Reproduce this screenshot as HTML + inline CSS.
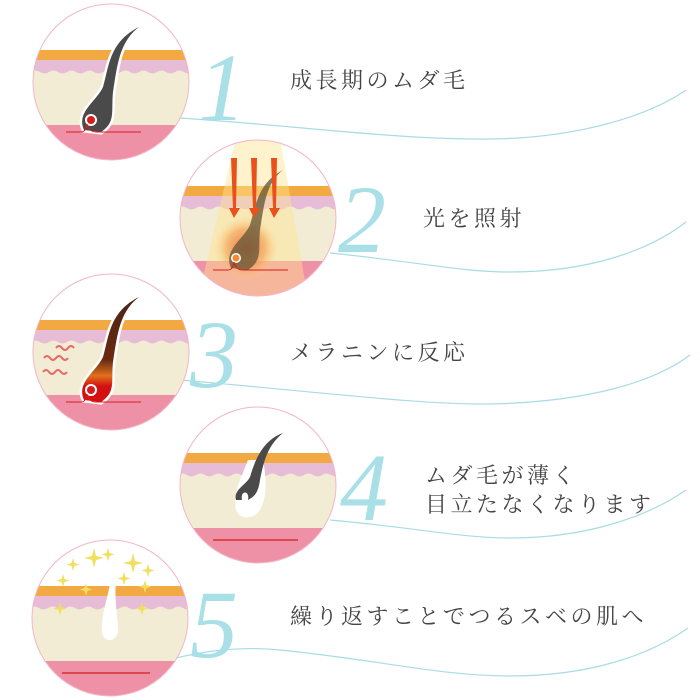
<!DOCTYPE html>
<html><head><meta charset="utf-8"><style>
html,body{margin:0;padding:0;background:#fff;}
svg{display:block}
.t{font-family:"Liberation Serif","Noto Serif CJK SC",serif;font-size:22px;fill:#444;letter-spacing:3.5px}
.n{font-family:"Liberation Serif",serif;font-style:italic;font-size:96px;fill:#a9dfe6}
</style></head><body>
<svg width="700" height="700" viewBox="0 0 700 700" xmlns="http://www.w3.org/2000/svg">
<defs>
<clipPath id="c"><circle cx="0" cy="0" r="78"/></clipPath>
<g id="skin">
<rect x="-80" y="-80" width="160" height="160" fill="#fff"/>
<rect x="-80" y="-32" width="160" height="10" fill="#f2a941"/>
<rect x="-80" y="-22" width="160" height="14" fill="#e6bcd6"/>
<path d="M-80 -10 q4.5 -3 9 0 t9 0 t9 0 t9 0 t9 0 t9 0 t9 0 t9 0 t9 0 t9 0 t9 0 t9 0 t9 0 t9 0 t9 0 t9 0 t9 0 t9 0 L80 43 L-80 43Z" fill="#f3ecd4"/>
<rect x="-80" y="43" width="160" height="40" fill="#ef91a6"/>
</g>
<radialGradient id="glow"><stop offset="0" stop-color="#e8583a" stop-opacity=".85"/><stop offset=".6" stop-color="#f59a4a" stop-opacity=".6"/><stop offset="1" stop-color="#ffd27a" stop-opacity="0"/></radialGradient>
<linearGradient id="h3" x1="0" y1="0" x2="0" y2="1"><stop offset="0" stop-color="#4a2418"/><stop offset=".6" stop-color="#6a2a10"/><stop offset=".75" stop-color="#e0701c"/><stop offset=".85" stop-color="#d21010"/></linearGradient>
</defs>

<g fill="none" stroke="#a9dbe4" stroke-width="1.2">
<path d="M180 118 C300 126 400 140 490 139 C580 138 650 115 686 90"/>
<path d="M330 253 C420 262 460 272 510 272 C590 272 650 250 686 222"/>
<path d="M180 380 C300 390 420 405 490 404 C580 402 650 385 690 355"/>
<path d="M330 520 C420 528 460 538 510 538 C590 538 650 515 686 490"/>
<path d="M150 665 C200 650 240 646 280 650 C380 660 440 676 510 676 C590 676 650 655 688 628"/>
</g>

<g transform="translate(111,82)">
<g clip-path="url(#c)"><use href="#skin"/>
<path d="M-27 48 C-35 30 -15 20 -8 5 C-2 -15 -2 -40 28 -55 C8 -40 6 -15 2 10 C0 30 5 40 -10 50 Z" fill="#fff" stroke="#fff" stroke-width="5"/>
<path d="M-27 48 C-35 30 -15 20 -8 5 C-2 -15 -2 -40 28 -55 C8 -40 6 -15 2 10 C0 30 5 40 -10 50 Z" fill="#4a4a4a"/>
<circle cx="-20" cy="38" r="6" fill="#fff"/><circle cx="-20" cy="38" r="4" fill="#d81c1c"/>
<path d="M-45 50 L-30 50 Q-25 50 -24 42 M-24 42 Q-22 50 -15 50 L30 50" fill="none" stroke="#d81c1c" stroke-width="1"/>
</g><circle r="78" fill="none" stroke="#f2b6c6" stroke-width="1"/></g>

<g transform="translate(258,218)">
<g clip-path="url(#c)"><use href="#skin"/>
<path d="M-22 -80 L22 -80 L50 80 L-60 80Z" fill="#ffe490" opacity=".45"/>
<circle cx="-12" cy="30" r="32" fill="url(#glow)"/>
<path d="M-27 50 C-35 32 -15 22 -8 7 C-2 -13 0 -35 25 -48 C8 -35 6 -13 2 12 C0 32 5 42 -10 52 Z" fill="#6b5a3a" opacity=".8"/>
<circle cx="-22" cy="40" r="5" fill="#fff"/><circle cx="-22" cy="40" r="3.5" fill="#f08a3a"/>
<path d="M-45 52 L-30 52 Q-25 52 -24 44 M-24 44 Q-22 52 -15 52 L30 52" fill="none" stroke="#d81c1c" stroke-width="1"/>
<g fill="#e8501c">
<path d="M-27 -60 l6 0 l-1 50 l4 0 l-6 10 l-5 -10 l4 0Z"/>
<path d="M-7 -60 l6 0 l-1 50 l4 0 l-6 10 l-5 -10 l4 0Z"/>
<path d="M13 -60 l6 0 l-1 50 l4 0 l-6 10 l-5 -10 l4 0Z"/>
</g>
</g><circle r="78" fill="none" stroke="#f2b6c6" stroke-width="1"/></g>

<g transform="translate(111,352)">
<g clip-path="url(#c)"><use href="#skin"/>
<path d="M-27 48 C-35 30 -15 20 -8 5 C-2 -15 -2 -40 28 -55 C8 -40 6 -15 2 10 C0 30 5 40 -10 50 Z" fill="#fff" stroke="#fff" stroke-width="5"/>
<path d="M-27 48 C-35 30 -15 20 -8 5 C-2 -15 -2 -40 28 -55 C8 -40 6 -15 2 10 C0 30 5 40 -10 50 Z" fill="url(#h3)"/>
<circle cx="-20" cy="38" r="6" fill="#fff"/><circle cx="-20" cy="38" r="4" fill="#d81c1c"/>
<path d="M-45 50 L-30 50 Q-25 50 -24 42 M-24 42 Q-22 50 -15 50 L30 50" fill="none" stroke="#d81c1c" stroke-width="1"/>
<g fill="none" stroke="#e86a6a" stroke-width="2">
<path d="M-67 6 q3 -4 6 0 t6 0 t6 0 t6 0"/>
<path d="M-55 -4 q3 -4 6 0 t6 0 t6 0"/>
<path d="M-68 20 q3 -4 6 0 t6 0 t6 0 t6 0"/>
</g>
</g><circle r="78" fill="none" stroke="#f2b6c6" stroke-width="1"/></g>

<g transform="translate(258,485)">
<g clip-path="url(#c)"><use href="#skin"/>
<path d="M-10 -25 C-20 0 -25 10 -22 25 C-18 35 -5 35 2 25 C10 10 8 -10 5 -25Z" fill="#fff"/>
<path d="M-22 15 C-25 5 -12 0 -8 -8 C-3 -25 5 -45 25 -52 C10 -40 6 -25 2 -5 C0 10 -5 12 -10 15 C-8 5 -18 5 -16 15Z" fill="#4a4a4a"/>
<path d="M-45 55 L40 55" stroke="#d81c1c" stroke-width="1.2"/>
</g><circle r="78" fill="none" stroke="#f2b6c6" stroke-width="1"/></g>

<g transform="translate(110,618)">
<g clip-path="url(#c)"><use href="#skin"/>
<path d="M0 -35 C-2 -20 -10 0 -8 15 C-6 25 6 24 8 14 C8 0 4 -20 6 -35Z" fill="#fff"/>
<path d="M-48 55 L40 55" stroke="#d81c1c" stroke-width="1.2"/>
<g fill="#f0e060">
<path d="M-16 -70 l2 8 l8 2 l-8 2 l-2 8 l-2 -8 l-8 -2 l8 -2Z"/>
<path d="M23 -65 l2 8 l8 2 l-8 2 l-2 8 l-2 -8 l-8 -2 l8 -2Z"/>
<path d="M-2 -70 l1.5 5 l5 1.5 l-5 1.5 l-1.5 5 l-1.5 -5 l-5 -1.5 l5 -1.5Z"/>
<path d="M-37 -60 l1.5 5 l5 1.5 l-5 1.5 l-1.5 5 l-1.5 -5 l-5 -1.5 l5 -1.5Z"/>
<path d="M-47 -44 l1.5 5 l5 1.5 l-5 1.5 l-1.5 5 l-1.5 -5 l-5 -1.5 l5 -1.5Z"/>
<path d="M38 -54 l1.5 5 l5 1.5 l-5 1.5 l-1.5 5 l-1.5 -5 l-5 -1.5 l5 -1.5Z"/>
<path d="M14 -46 l1.5 5 l5 1.5 l-5 1.5 l-1.5 5 l-1.5 -5 l-5 -1.5 l5 -1.5Z"/>
<path d="M-24 -35 l1.5 5 l5 1.5 l-5 1.5 l-1.5 5 l-1.5 -5 l-5 -1.5 l5 -1.5Z"/>
<path d="M35 -38 l1.5 5 l5 1.5 l-5 1.5 l-1.5 5 l-1.5 -5 l-5 -1.5 l5 -1.5Z"/>
<path d="M-50 -16 l1.5 5 l5 1.5 l-5 1.5 l-1.5 5 l-1.5 -5 l-5 -1.5 l5 -1.5Z"/>
<path d="M32 -16 l1.5 5 l5 1.5 l-5 1.5 l-1.5 5 l-1.5 -5 l-5 -1.5 l5 -1.5Z"/>
</g>
</g><circle r="78" fill="none" stroke="#f2b6c6" stroke-width="1"/></g>

<text class="n" x="198" y="120">1</text>
<text class="n" x="338" y="252">2</text>
<text class="n" x="190" y="387">3</text>
<text class="n" x="340" y="520">4</text>
<text class="n" x="190" y="657">5</text>

<text class="t" x="290" y="88">成長期のムダ毛</text>
<text class="t" x="423" y="226">光を照射</text>
<text class="t" x="290" y="360">メラニンに反応</text>
<text class="t" x="425" y="483">ムダ毛が薄く</text>
<text class="t" x="425" y="512">目立たなくなります</text>
<text class="t" x="290" y="624">繰り返すことでつるスベの肌へ</text>
</svg>
</body></html>
